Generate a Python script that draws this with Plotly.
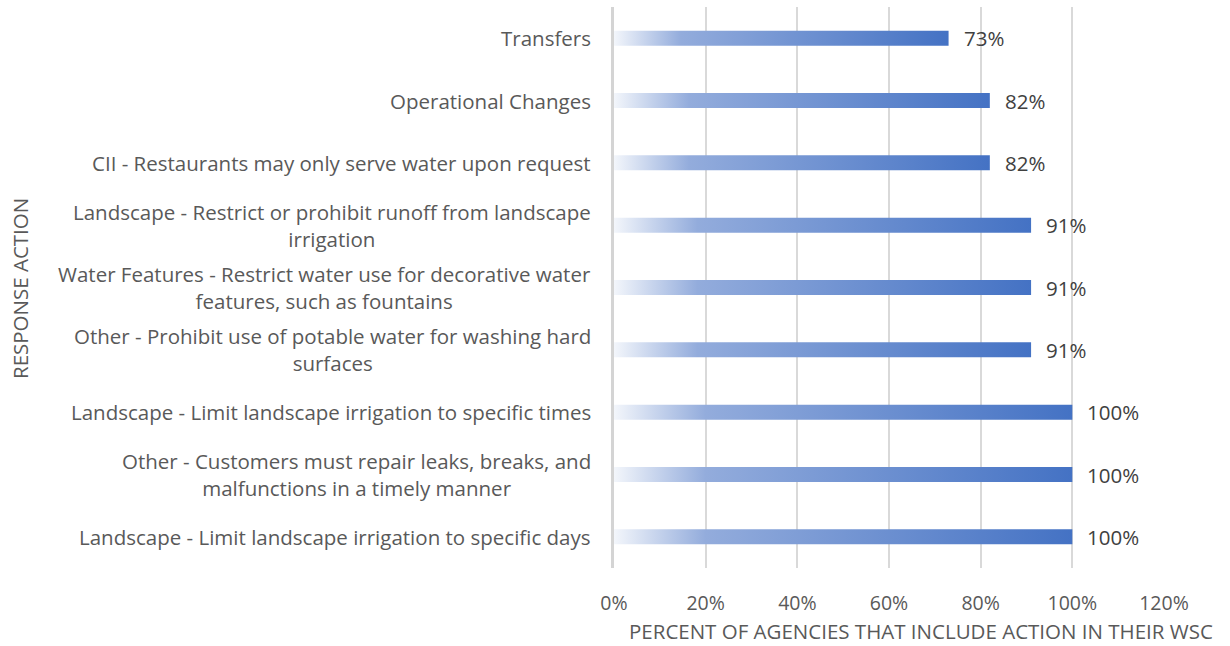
import plotly.graph_objects as go

# Response actions, listed top to bottom
actions = [
    "Transfers",
    "Operational Changes",
    "CII - Restaurants may only serve water upon request",
    "Landscape - Restrict or prohibit runoff from landscape\nirrigation",
    "Water Features - Restrict water use for decorative water\nfeatures, such as fountains",
    "Other - Prohibit use of potable water for washing hard\nsurfaces",
    "Landscape - Limit landscape irrigation to specific times",
    "Other - Customers must repair leaks, breaks, and\nmalfunctions in a timely manner",
    "Landscape - Limit landscape irrigation to specific days",
]
# Percent of agencies that include each action in their WSC
percent = [73, 82, 82, 91, 91, 91, 100, 100, 100]

x_ticks = [0, 20, 40, 60, 80, 100, 120]

FONT = "Open Sans"
TEXT = "#595959"
BAR_HALF = 0.12
PLOT_L, PLOT_R, PLOT_T, PLOT_B = 614, 1164, 7, 568
W, H = 1230, 646

fig = go.Figure()

# Each bar is a filled rectangle with a left-to-right gradient
for i, v in enumerate(percent):
    frac = v / 100.0
    fig.add_trace(go.Scatter(
        x=[0, frac, frac, 0, 0],
        y=[i - BAR_HALF, i - BAR_HALF, i + BAR_HALF, i + BAR_HALF, i - BAR_HALF],
        mode="lines",
        line=dict(width=0),
        fill="toself",
        fillgradient=dict(
            type="horizontal",
            colorscale=[[0, "#f3f6fb"], [0.2, "#93acdc"], [1, "#4472C4"]],
        ),
        hoverinfo="skip",
        showlegend=False,
    ))

annotations = []
# value labels to the right of each bar
for i, v in enumerate(percent):
    annotations.append(dict(
        x=v / 100.0, y=i, xref="x", yref="y",
        text=f"{v}%", showarrow=False,
        xanchor="left", yanchor="middle", xshift=13,
        font=dict(family=FONT, size=20.5, color="#404040"),
    ))

# category labels, centred line by line, right edge next to the axis
for i, label in enumerate(actions):
    annotations.append(dict(
        x=0, y=i, xref="paper", yref="y",
        text="<br>".join(label.split("\n")), showarrow=False,
        xanchor="right", yanchor="middle", align="center",
        xshift=-21,
        font=dict(family=FONT, size=20.5, color=TEXT),
    ))

pw = PLOT_R - PLOT_L
ph = PLOT_B - PLOT_T
# axis titles
annotations.append(dict(
    x=(20 - PLOT_L) / pw, y=(PLOT_B - 289) / ph, xref="paper", yref="paper",
    text="RESPONSE ACTION", textangle=-90, showarrow=False,
    xanchor="center", yanchor="middle",
    font=dict(family=FONT, size=20.5, color=TEXT),
))
annotations.append(dict(
    x=(921 - PLOT_L) / pw, y=-(631 - PLOT_B) / ph, xref="paper", yref="paper",
    text="PERCENT OF AGENCIES THAT INCLUDE ACTION IN THEIR WSC",
    showarrow=False, xanchor="center", yanchor="middle",
    font=dict(family=FONT, size=20.5, color=TEXT),
))

fig.update_layout(
    width=W, height=H,
    margin=dict(l=PLOT_L, r=W - PLOT_R, t=PLOT_T, b=H - PLOT_B),
    paper_bgcolor="white", plot_bgcolor="white",
    annotations=annotations,
    xaxis=dict(
        range=[0, 1.2],
        tickvals=[t / 100 for t in x_ticks],
        ticktext=[f"{t}%" for t in x_ticks],
        showgrid=True, gridcolor="rgba(0,0,0,0.15)", gridwidth=1.5,
        zeroline=False, showline=False,
        ticks="", ticklabelstandoff=21,
        tickfont=dict(family=FONT, size=19.5, color=TEXT),
        layer="above traces",
        fixedrange=True,
    ),
    yaxis=dict(
        range=[len(actions) - 0.5, -0.5],
        showticklabels=False, showgrid=False, zeroline=False,
        showline=True, linecolor="#d4d4d4", linewidth=3,
        ticks="",
        fixedrange=True,
    ),
)

fig.write_html("out.html")
